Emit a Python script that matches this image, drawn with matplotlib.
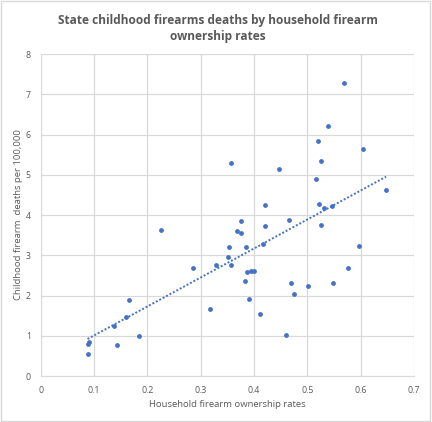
import numpy as np
import matplotlib as mpl
mpl.use("Agg")
import matplotlib.pyplot as plt
from matplotlib.patches import Rectangle

plt.rcParams["font.family"] = ["Open Sans", "DejaVu Sans"]

# household firearm ownership rate vs childhood firearm deaths per 100,000
ownership = [0.088, 0.088, 0.090, 0.137, 0.144, 0.161, 0.165, 0.185, 0.225, 0.286,
             0.318, 0.328, 0.352, 0.354, 0.569, 0.539, 0.521, 0.604, 0.358, 0.526,
             0.448, 0.517, 0.648, 0.421, 0.523, 0.532, 0.547, 0.376, 0.466, 0.421,
             0.526, 0.369, 0.375, 0.386, 0.418, 0.598, 0.358, 0.388, 0.395, 0.401,
             0.577, 0.384, 0.470, 0.549, 0.502, 0.476, 0.390, 0.412, 0.461]
deaths = [0.54, 0.79, 0.85, 1.24, 0.76, 1.46, 1.89, 0.99, 3.62, 2.68,
          1.67, 2.75, 2.95, 3.20, 7.28, 6.21, 5.84, 5.64, 5.29, 5.34,
          5.14, 4.89, 4.62, 4.25, 4.27, 4.17, 4.22, 3.85, 3.87, 3.72,
          3.75, 3.60, 3.55, 3.20, 3.28, 3.23, 2.76, 2.58, 2.60, 2.60,
          2.68, 2.36, 2.31, 2.31, 2.23, 2.03, 1.91, 1.53, 1.01]
xticks = [0, 0.1, 0.2, 0.3, 0.4, 0.5, 0.6, 0.7]
yticks = [0, 1, 2, 3, 4, 5, 6, 7, 8]

x = np.array(ownership)
y = np.array(deaths)
slope, icpt = np.polyfit(x, y, 1)
xf = np.array([x.min(), x.max()])

fig = plt.figure(figsize=(4.32, 4.22), dpi=100)
ax = fig.add_axes([0.094, 0.109, 0.864, 0.763])
grey = "#d9d9d9"
txt = "#595959"

ax.scatter(x, y, s=12, color="#4472c4", zorder=3, linewidths=0)
ax.plot(xf, slope * xf + icpt, color="#4472c4", linestyle=(0, (1, 1)),
        linewidth=1.4, zorder=2)

ax.set_xlim(0, 0.7)
ax.set_ylim(0, 8)
ax.set_xticks(xticks)
ax.set_yticks(yticks)
ax.set_xticklabels([("%g" % t) for t in xticks])
ax.grid(True, color=grey, linewidth=0.9)
ax.set_axisbelow(True)
for s in ["top", "right", "left"]:
    ax.spines[s].set_visible(False)
ax.spines["bottom"].set_color(grey)
ax.tick_params(length=0, labelsize=6.3, colors=txt, pad=7)

ax.set_xlabel("Household firearm ownership rates", fontsize=6.8, color=txt, labelpad=4)
ax.set_ylabel("Childhood firearm  deaths per 100,000", fontsize=6.8, color=txt, labelpad=2)
fig.text(0.505, 0.933, "State childhood firearms deaths by household firearm\nownership rates",
         ha="center", va="center", fontsize=8.6, fontweight="bold", color=txt,
         linespacing=1.35)

fig.patches.append(Rectangle((0.002, 0.003), 0.994, 0.994, transform=fig.transFigure,
                             fill=False, edgecolor=grey, linewidth=1))

fig.savefig("out.png", dpi=100)
